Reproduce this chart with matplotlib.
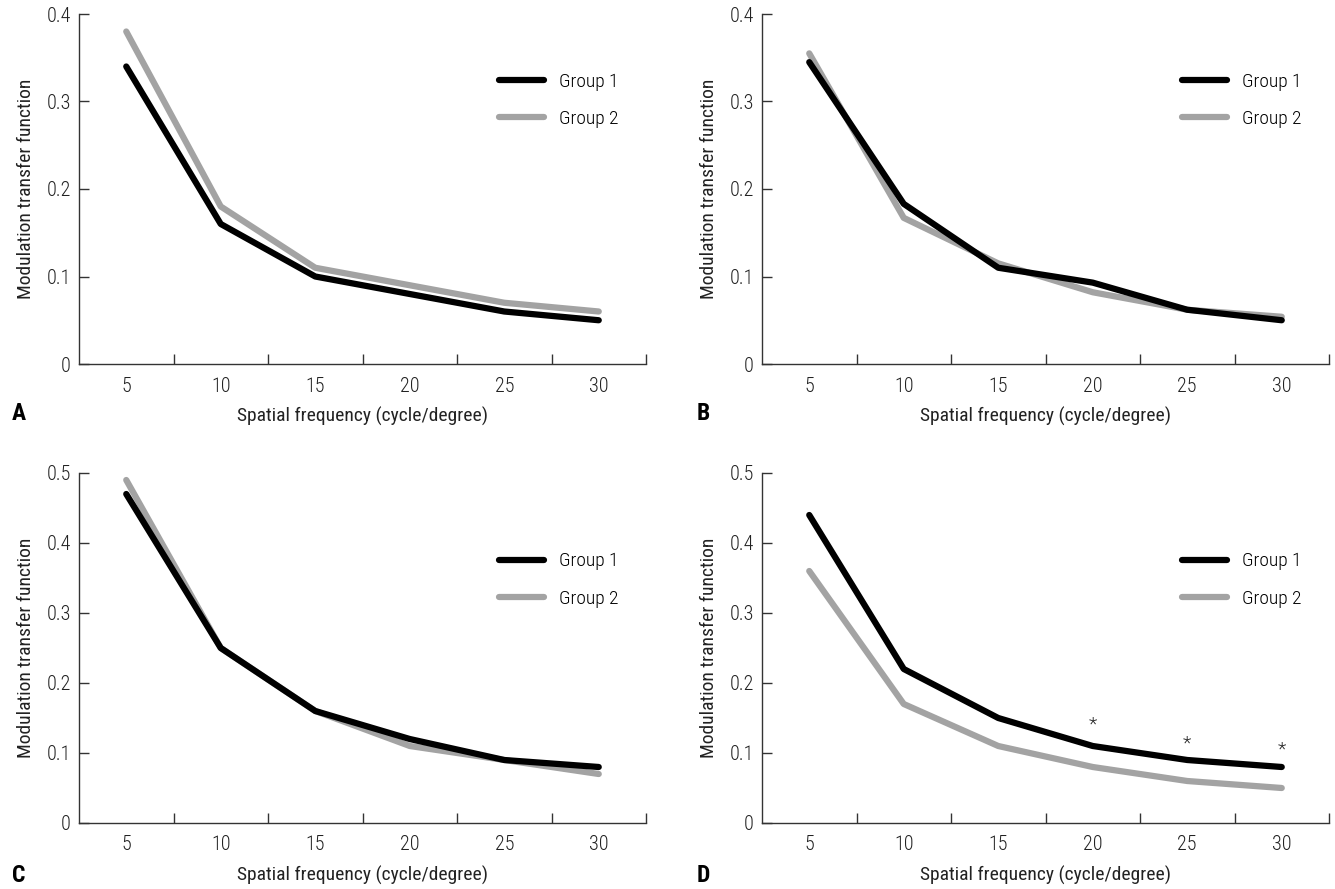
import numpy as np
import matplotlib
matplotlib.use("Agg")
import matplotlib.pyplot as plt
from matplotlib import font_manager

# pick a narrow font if one is installed (light weight if there is one)
narrow = None
for pref in ["Liberation Sans Narrow", "Roboto Condensed", "DejaVu Sans"]:
    cands = [f for f in font_manager.fontManager.ttflist
             if f.name == pref and (f.stretch in ("condensed", "semi-condensed")
                                    or "Narrow" in f.name or "Condensed" in f.name)
             and f.style == "normal"]
    if cands:
        light = [f for f in cands if f.weight in (300, "light")]
        regular = [f for f in cands if f.weight in (400, "normal", "regular")]
        narrow = (light or regular or cands)[0]
        break

if narrow:
    plt.rcParams['font.family'] = [narrow.name, 'DejaVu Sans']
    plt.rcParams['font.stretch'] = narrow.stretch
    plt.rcParams['font.weight'] = narrow.weight
else:
    plt.rcParams['font.family'] = ['DejaVu Sans']

freqs = ["5", "10", "15", "20", "25", "30"]

a_group1 = [0.34, 0.16, 0.10, 0.08, 0.06, 0.05]
a_group2 = [0.38, 0.18, 0.11, 0.09, 0.07, 0.06]

b_group1 = [0.345, 0.183, 0.11, 0.093, 0.062, 0.05]
b_group2 = [0.355, 0.167, 0.115, 0.082, 0.062, 0.054]

c_group1 = [0.47, 0.25, 0.16, 0.12, 0.09, 0.08]
c_group2 = [0.49, 0.25, 0.16, 0.11, 0.09, 0.07]

d_group1 = [0.44, 0.22, 0.15, 0.11, 0.09, 0.08]
d_group2 = [0.36, 0.17, 0.11, 0.08, 0.06, 0.05]

# significance marks in panel D (index, y)
d_star_idx = [3, 4, 5]
d_star_y = [0.14, 0.113, 0.105]

W, H = 1335, 889
fig = plt.figure(figsize=(W / 100, H / 100), dpi=100)

def px_axes(left, right, top, bottom):
    return fig.add_axes([left / W, 1 - bottom / H, (right - left) / W, (bottom - top) / H])

panels = [
    ("A", px_axes(79, 646, 14, 364), a_group1, a_group2, 0.4, (12, 413), 0.753),
    ("B", px_axes(762, 1329, 14, 364), b_group1, b_group2, 0.4, (697, 413), 0.753),
    ("C", px_axes(79, 646, 473, 823), c_group1, c_group2, 0.5, (12, 875), 0.694),
    ("D", px_axes(762, 1329, 473, 823), d_group1, d_group2, 0.5, (697, 875), 0.694),
]

x = np.arange(len(freqs))
spine_col = "#333333"
txt_col = "#222222"

for letter, ax, g1, g2, ymax, lpos, legy in panels:
    ax.plot(x, g1, color="black", lw=4.5, solid_capstyle="round", solid_joinstyle="round", label="Group 1", zorder=3)
    ax.plot(x, g2, color="#a3a3a3", lw=4.5, solid_capstyle="round", solid_joinstyle="round", label="Group 2", zorder=2)
    ax.set_xlim(-0.5, len(freqs) - 0.5)
    ax.set_ylim(0, ymax)
    ax.set_yticks(np.arange(0, ymax + 0.001, 0.1))
    ax.set_yticklabels(["0"] + ["%.1f" % v for v in np.arange(0.1, ymax + 0.001, 0.1)])
    ax.set_xticks(x)
    ax.set_xticklabels(freqs)
    ax.set_xticks(np.arange(0.5, len(freqs), 1.0), minor=True)
    ax.tick_params(axis="x", which="major", length=0, pad=9, labelsize=14.5, colors=txt_col)
    ax.tick_params(axis="x", which="minor", direction="in", length=7, width=1, color=spine_col)
    ax.tick_params(axis="y", direction="in", length=7, width=1, pad=6, labelsize=14.5, color=spine_col, labelcolor=txt_col)
    for s in ["top", "right"]:
        ax.spines[s].set_visible(False)
    for s in ["left", "bottom"]:
        ax.spines[s].set_color(spine_col)
        ax.spines[s].set_linewidth(1)
    ax.set_xlabel("Spatial frequency (cycle/degree)", fontsize=14, color=txt_col, labelpad=8)
    ax.set_ylabel("Modulation transfer function", fontsize=14, color=txt_col, labelpad=8)
    ax.legend(loc="center left", bbox_to_anchor=(0.71, legy), frameon=False, fontsize=14,
              handlelength=2.3, labelspacing=1.0, handletextpad=0.8)
    fig.text(lpos[0] / W, 1 - lpos[1] / H, letter, fontsize=17, fontweight="bold", va="center", ha="left")

axd = panels[3][1]
for i, yv in zip(d_star_idx, d_star_y):
    axd.text(x[i], yv, "*", ha="center", va="center", fontsize=14, color=txt_col)

fig.savefig("out.png", dpi=100)
